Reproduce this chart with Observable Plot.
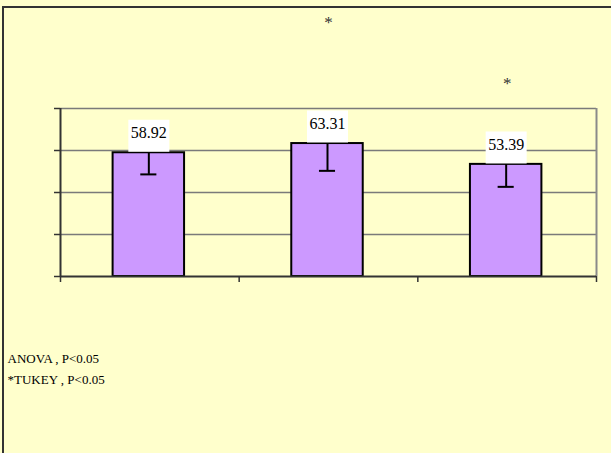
<!DOCTYPE html>
<html>
<head>
<meta charset="utf-8">
<script src="https://cdn.jsdelivr.net/npm/d3@7"></script>
<script src="https://cdn.jsdelivr.net/npm/@observablehq/plot@0.6"></script>
<style>
  html, body { margin: 0; padding: 0; background: #FFFFCC; overflow: hidden; }
  #wrap { position: relative; width: 611px; height: 453px; overflow: hidden; background: #FFFFCC;
          box-shadow: inset 2px 0 0 #FFFFCC, inset 4px 0 0 #333; }
  #wrap::before { content: ""; position: absolute; left: 2px; top: 6px; right: -20px; bottom: -20px;
          border-top: 2px solid #333; border-left: 2px solid #333; }
  #wrap::after { content: ""; position: absolute; left: 0; top: 0; width: 8px; height: 6px; background: #FFFFCC; }
  svg { position: absolute; left: 0; top: 0; }
</style>
</head>
<body>
<div id="wrap"></div>
<script>
// ---- data ----
const groupIndex = [0, 1, 2];
const means = [58.92, 63.31, 53.39];
const errors = [10.3, 13.0, 10.7];           // lower error bars
const yTicks = [0, 20, 40, 60, 80];
const xTicks = [0, 1, 2, 3];                 // category boundaries
const starGroups = [1, 2];
const starY = [121, 92];
const notes = ["ANOVA , P<0.05", "*TUKEY , P<0.05"];

const data = groupIndex.map((i) => ({ i, mean: means[i], err: errors[i], label: means[i].toFixed(2) }));
const stars = starGroups.map((g, k) => ({ g, y: starY[k] }));

const serif = "'Liberation Serif', 'Times New Roman', Times, 'DejaVu Serif', serif";
const boxSymbol = { draw(ctx) { ctx.rect(-20.5, -16, 41, 32); } };

const chart = Plot.plot({
  width: 611,
  height: 453,
  marginLeft: 60,
  marginRight: 15,
  marginTop: 108,
  marginBottom: 177,
  style: { background: "transparent", fontFamily: serif, color: "#000", overflow: "hidden" },
  x: { type: "linear", domain: [0, 3], axis: null },
  y: { domain: [0, 80], axis: null },
  marks: [
    Plot.ruleY(yTicks.slice(1), { stroke: "#7a7a7a", strokeWidth: 1.5 }),
    Plot.ruleX([3], { stroke: "#8a8a8a", strokeWidth: 2 }),
    Plot.rectY(data, { x1: d => d.i + 0.3, x2: d => d.i + 0.7, y: "mean", dx: -1,
      fill: "#CC99FF", stroke: "#000", strokeWidth: 2 }),
    Plot.ruleX(data, { x: d => d.i + 0.5, y1: d => d.mean - d.err, y2: "mean", dx: -1,
      stroke: "#000", strokeWidth: 2 }),
    Plot.ruleY(data, { y: d => d.mean - d.err, x1: d => d.i + 0.455, x2: d => d.i + 0.545, dx: -1,
      stroke: "#000", strokeWidth: 2 }),
    Plot.dot(data, { x: d => d.i + 0.5, y: "mean", dx: -1, dy: -17, symbol: boxSymbol,
      fill: "#fff", stroke: "none" }),
    Plot.text(data, { x: d => d.i + 0.5, y: "mean", dx: -1, dy: -20, text: "label",
      fontSize: 16, fontFamily: serif, fill: "#000" }),
    Plot.text(stars, { x: d => d.g + 0.5, y: "y", text: () => "*", fontSize: 17, fontFamily: serif, fill: "#333" }),
    Plot.ruleX([0], { stroke: "#333", strokeWidth: 2 }),
    Plot.ruleY([0], { stroke: "#333", strokeWidth: 2 }),
    Plot.axisY(yTicks, { tickFormat: () => "", tickSize: 6, stroke: "#333", strokeWidth: 1.5 }),
    Plot.axisX(xTicks, { tickFormat: () => "", tickSize: 6, stroke: "#333", strokeWidth: 1.5 }),
    Plot.text([notes.join("\n")], { frameAnchor: "bottom-left", textAnchor: "start", lineAnchor: "top",
      dx: -53, dy: 72, lineHeight: 1.6, fontSize: 13, fontFamily: serif, fill: "#000" })
  ]
});
document.getElementById("wrap").appendChild(chart);
</script>
</body>
</html>
